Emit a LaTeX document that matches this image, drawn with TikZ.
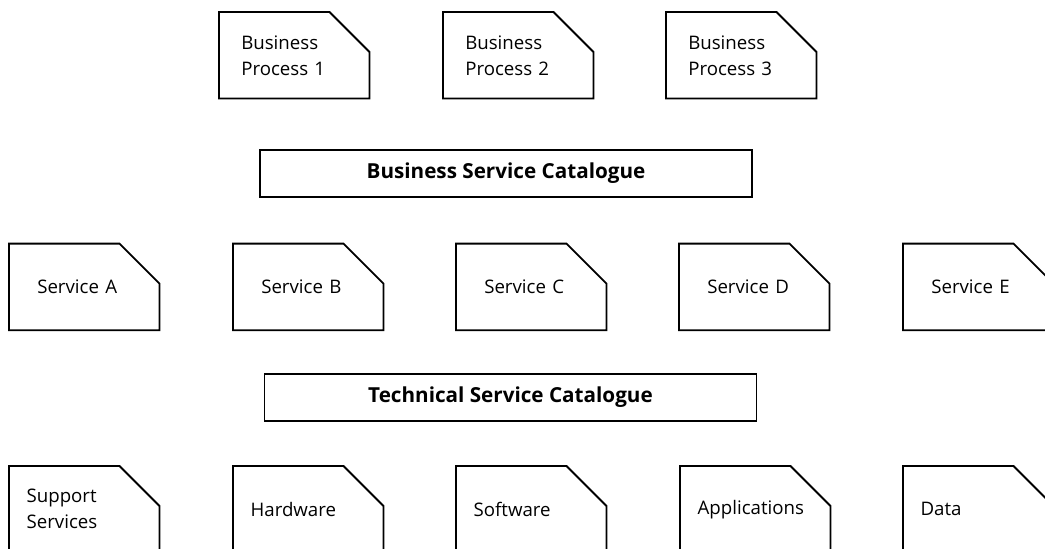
\documentclass[tikz,border=0pt]{standalone}
\usepackage{fontspec}
\setmainfont{Open Sans}

% Rahmen mit abgeschnittener Ecke oben rechts
\def\cutcorner#1{%
  \draw[outline] (#1.north west) -- ([xshift=-30pt]#1.north east)
    -- ([yshift=-30pt]#1.north east) -- (#1.south east)
    -- (#1.south west) -- cycle;
}

\begin{document}
\begin{tikzpicture}[x=0.75pt,y=-0.75pt,
    outline/.style={line width=1.4pt,line join=miter},
    cutbox/.style={minimum width=112.5pt,minimum height=64.5pt,inner ysep=0pt,
      align=left,anchor=north west,font=\fontsize{14}{19.5}\selectfont},
    procbox/.style={cutbox,inner xsep=16.5pt,text width=79.5pt},
    svcbox/.style={cutbox,inner xsep=21pt,text width=70.5pt,yshift=-2pt},
    techbox/.style={cutbox,inner xsep=13pt,text width=86.5pt},
    catalogue/.style={draw,line width=1.4pt,minimum width=369pt,minimum height=35pt,
      inner sep=0pt,font=\fontsize{15.5}{18}\selectfont\bfseries}]
\useasboundingbox (0,0) rectangle (1045,549);
%
% ============ Geschaeftsprozesse ============
\node[procbox] (proc1) at (219,12) {Business\\Process 1};
\node[procbox] (proc2) at (443,12) {Business\\Process 2};
\node[procbox] (proc3) at (666,12) {Business\\Process 3};
\cutcorner{proc1}
\cutcorner{proc2}
\cutcorner{proc3}
%
% ============ Business Service Catalogue ============
\node[catalogue] (bsc) at (506,173.5) {Business Service Catalogue};
%
% ============ Services ============
\node[svcbox] (svcA) at (9,241) {Service A};
\node[svcbox] (svcB) at (233,241) {Service B};
\node[svcbox] (svcC) at (456,241) {Service C};
\node[svcbox] (svcD) at (679,241) {Service D};
\node[svcbox] (svcE) at (903,241) {Service E};
\cutcorner{svcA}
\cutcorner{svcB}
\cutcorner{svcC}
\cutcorner{svcD}
\cutcorner{svcE}
%
% ============ Technical Service Catalogue ============
\node[catalogue] (tsc) at (510.5,397.5) {Technical Service Catalogue};
%
% ============ Technische Bausteine ============
\node[techbox] (support) at (9,466) {Support\\Services};
\node[techbox] (hardware) at (233,466) {Hardware};
\node[techbox] (software) at (456,466) {Software};
\node[techbox] (apps) at (680,466) {Applications};
\node[techbox] (data) at (903,466) {Data};
\cutcorner{support}
\cutcorner{hardware}
\cutcorner{software}
\cutcorner{apps}
\cutcorner{data}
%
\end{tikzpicture}
\end{document}
